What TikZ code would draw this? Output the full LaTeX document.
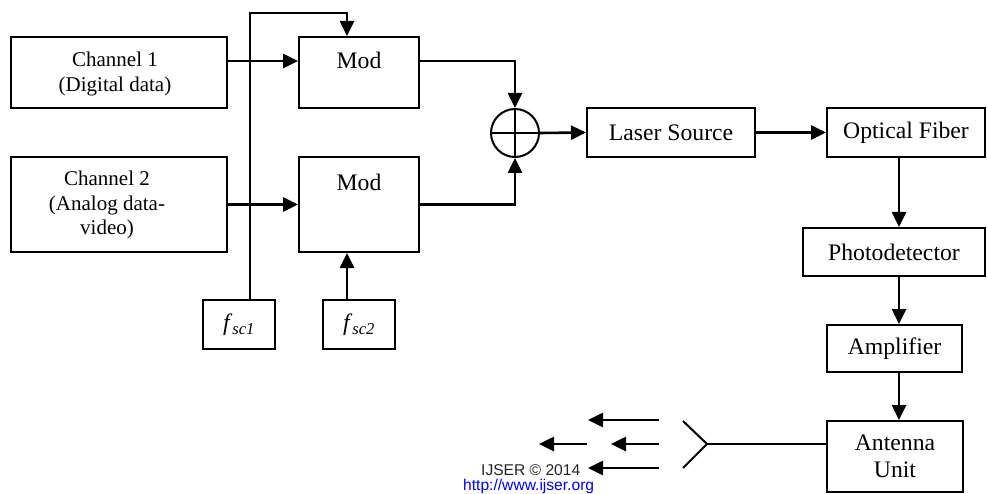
\documentclass[tikz,border=0pt]{standalone}
\usepackage{fontspec}
\setmainfont{Liberation Serif}
\newfontfamily\wmfont{Liberation Sans}
\usetikzlibrary{arrows.meta}
\definecolor{wmgray}{RGB}{35,35,35}
\definecolor{urlblue}{RGB}{0,0,255}
\begin{document}
\begin{tikzpicture}[x=1pt,y=-1pt,
  blk/.style={draw, line width=2pt, inner sep=0pt, align=center,
    font=\fontsize{23.7}{27}\selectfont},
  chtext/.style={font=\fontsize{21}{24.5}\selectfont, align=center, inner sep=0pt},
  lbl/.style={font=\fontsize{23.7}{27}\selectfont, inner sep=0pt},
  conn/.style={line width=2.6pt, -{Triangle[length=15pt,width=14pt]}},
  thinl/.style={line width=2pt}]
\useasboundingbox (0,0) rectangle (987,494);
% boxes
\node[blk, minimum width=216pt, minimum height=71pt] (ch1) at (119,72.5) {};
\node[chtext] (ch1t) at (115,74) {Channel 1\\(Digital data)};
\node[blk, minimum width=216pt, minimum height=95pt] (ch2) at (119,204.5) {};
\node[chtext] (ch2t) at (107,205) {Channel 2\\(Analog data-\\video)};
\node[blk, minimum width=120pt, minimum height=71pt] (m1) at (359,72.5) {};
\node[lbl, anchor=base] (m1t) at ([yshift=-33pt]m1.north) {Mod};
\node[blk, minimum width=120pt, minimum height=95pt] (m2) at (359,204.5) {};
\node[lbl, anchor=base] (m2t) at ([yshift=-35pt]m2.north) {Mod};
\node[blk, minimum width=72pt, minimum height=49pt] (fsc1) at (239,324.5) {\textit{f}\textsubscript{\textit{sc1}}};
\node[blk, minimum width=72pt, minimum height=49pt] (fsc2) at (359,324.5) {\textit{f}\textsubscript{\textit{sc2}}};
\node[draw, circle, line width=2pt, minimum size=48pt, inner sep=0pt] (sum) at (515,133) {};
\node[blk, minimum width=168pt, minimum height=49pt] (laser) at (671,132.5) {Laser Source};
\node[blk, minimum width=158pt, minimum height=49pt] (fiber) at (906,132.5) {Optical Fiber};
\node[blk, minimum width=182pt, minimum height=48pt] (photo) at (894,252) {Photodetector};
\node[blk, minimum width=135pt, minimum height=47pt] (amp) at (894.5,348.5) {Amplifier};
\node[blk, minimum width=136pt, minimum height=71pt] (ant) at (895,456.5) {Antenna\\Unit};
% helper coordinates
\coordinate (r1) at (0,61);
\coordinate (top) at (250,13);
\coordinate (fx) at (347,0);
\coordinate (vx) at (899,0);
\coordinate (apex) at (707,444);
\coordinate (armt) at (683,421);
\coordinate (armb) at (683,468);
\coordinate (w1s) at (659,420);
\coordinate (w1e) at (588,420);
\coordinate (w2s) at (659,444);
\coordinate (w2e) at (611,444);
\coordinate (w3s) at (587,444);
\coordinate (w3e) at (539,444);
\coordinate (w4s) at (659,468);
\coordinate (w4e) at (588,468);
% sum cross
\draw[thinl] (sum.north) -- (sum.south) (sum.west) -- (sum.east);
% connectors
\draw[conn] (ch1.east |- r1) -- (m1.west |- r1);
\draw[conn] (ch2.east) -- (m2.west);
\draw[conn] (fsc1.north -| top) -- (top) -- (top -| fx) -- (m1.north -| fx);
\draw[conn] (fsc2.north -| fx) -- (m2.south -| fx);
\draw[conn] (m1.east |- r1) -| (sum.north);
\draw[conn] (m2.east) -| (sum.south);
\draw[conn] (sum.east) -- (laser.west);
\draw[conn] (laser.east) -- (fiber.west);
\draw[conn] (fiber.south -| vx) -- (photo.north -| vx);
\draw[conn] (photo.south -| vx) -- (amp.north -| vx);
\draw[conn] (amp.south -| vx) -- (ant.north -| vx);
% antenna
\draw[thinl] (ant.west |- apex) -- (apex);
\draw[thinl] (armt) -- (apex) -- (armb);
\draw[conn] (w1s) -- (w1e);
\draw[conn] (w2s) -- (w2e);
\draw[conn] (w3s) -- (w3e);
\draw[conn] (w4s) -- (w4e);
% watermark
\node[anchor=base west, inner sep=0pt, text=wmgray, font=\wmfont\fontsize{15.6}{18}\selectfont] (wm) at (481,475.5) {IJSER © 2014};
\node[anchor=base west, inner sep=0pt, text=urlblue, font=\wmfont\fontsize{15.6}{18}\selectfont] (url) at (463,490) {http://www.ijser.org};
\end{tikzpicture}
\end{document}
